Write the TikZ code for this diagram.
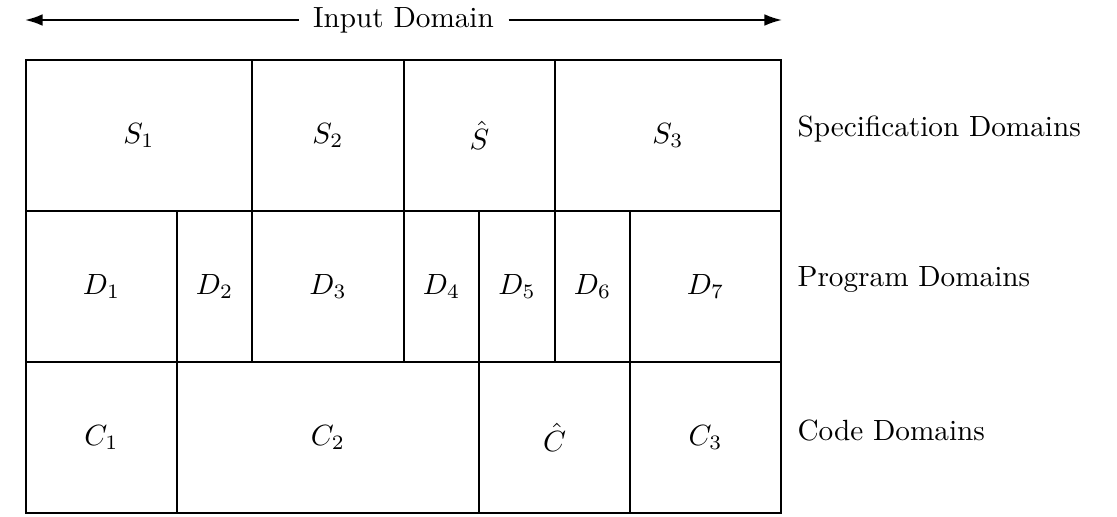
\documentclass[tikz,border=0pt]{standalone}
\usetikzlibrary{arrows.meta}
\begin{document}
\begin{tikzpicture}[x=0.342pt,y=-0.342pt,
  cell/.style={draw,line width=0.7pt,rectangle,inner sep=0pt,outer sep=0pt},
  side/.style={anchor=west,inner sep=0pt},
  arr/.style={line width=0.7pt,-{Latex[length=6pt,width=4pt]}}]
\useasboundingbox (0,0) rectangle (1117,516);
\newcommand{\mycell}[6]{%
  \pgfmathsetmacro{\mycw}{(#3-#2)*0.342}%
  \pgfmathsetmacro{\mych}{(#5-#4)*0.342}%
  \node[cell,minimum width=\mycw pt,minimum height=\mych pt] (#1) at ({(#2+#3)/2},{(#4+#5)/2}) {#6};}
% row 1
\mycell{s1}{26}{252}{60}{211}{$S_1$}
\mycell{s2}{252}{404}{60}{211}{$S_2$}
\mycell{sh}{404}{555}{60}{211}{$\hat{S}$}
\mycell{s3}{555}{781}{60}{211}{$S_3$}
% row 2
\mycell{d1}{26}{177}{211}{362}{$D_1$}
\mycell{d2}{177}{252}{211}{362}{$D_2$}
\mycell{d3}{252}{404}{211}{362}{$D_3$}
\mycell{d4}{404}{479}{211}{362}{$D_4$}
\mycell{d5}{479}{555}{211}{362}{$D_5$}
\mycell{d6}{555}{630}{211}{362}{$D_6$}
\mycell{d7}{630}{781}{211}{362}{$D_7$}
% row 3
\mycell{c1}{26}{177}{362}{513}{$C_1$}
\mycell{c2}{177}{479}{362}{513}{$C_2$}
\mycell{ch}{479}{630}{362}{513}{$\hat{C}$}
\mycell{c3}{630}{781}{362}{513}{$C_3$}
% side labels
\node[side] (ls) at (797,129) {Specification Domains};
\node[side] (lp) at (797,280) {Program Domains};
\node[side] (lc) at (797,431) {Code Domains};
% input domain arrow
\node[inner sep=5pt,outer sep=0pt] (in) at (403.5,20) {Input Domain};
\coordinate (al) at (25,20);
\coordinate (ar) at (782,20);
\draw[arr] (in.west) -- (al);
\draw[arr] (in.east) -- (ar);
\end{tikzpicture}
\end{document}
